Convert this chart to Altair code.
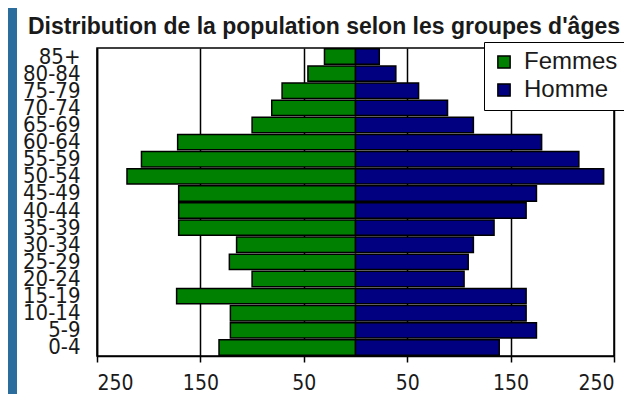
import altair as alt
import pandas as pd

ages = ["85+", "80-84", "75-79", "70-74", "65-69", "60-64", "55-59", "50-54", "45-49",
        "40-44", "35-39", "30-34", "25-29", "20-24", "15-19", "10-14", "5-9", "0-4"]
femmes = [30, 46, 71, 81, 100, 172, 207, 221, 171, 171, 171, 115, 122, 100, 173, 121, 121, 132]
hommes = [23, 39, 61, 89, 114, 180, 216, 240, 175, 165, 134, 114, 109, 105, 165, 165, 175, 139]
series = ["Femmes", "Homme"]
colors = ["#008000", "#000080"]
tick_values = [-250, -150, -50, 50, 150, 250]

rows = []
for a, f, h in zip(ages, femmes, hommes):
    rows.append({"age": a, "sexe": "Femmes", "val": -f})
    rows.append({"age": a, "sexe": "Homme", "val": h})
df = pd.DataFrame(rows)

narrow = "Liberation Sans Narrow, Arial Narrow, DejaVu Sans Condensed, sans-serif"
regular = "Liberation Sans, Arial, sans-serif"

bars = alt.Chart(df).mark_bar(stroke="black", strokeWidth=1.5).encode(
    x=alt.X("val:Q", scale=alt.Scale(domain=[-250, 250], nice=False, zero=False),
            axis=alt.Axis(values=tick_values, labelExpr="abs(datum.value)", title=None,
                          grid=True, gridColor="black", gridWidth=1.5, gridOpacity=1,
                          domainColor="black", domainWidth=1.5, tickColor="black",
                          tickWidth=1.5, tickSize=6, labelPadding=10,
                          labelFont=narrow, labelFontSize=21, labelColor="#1a1a1a")),
    y=alt.Y("age:N", sort=ages, scale=alt.Scale(paddingInner=0.1, paddingOuter=0.05),
            axis=alt.Axis(title=None, ticks=False, domainColor="black", domainWidth=1.5,
                          labelPadding=17, labelFont=narrow, labelFontSize=22,
                          labelColor="#1a1a1a", labelOverlap=False)),
    color=alt.Color("sexe:N", scale=alt.Scale(domain=series, range=colors),
                    legend=alt.Legend(title=None, orient="none", legendX=387, legendY=-6,
                                      fillColor="white", strokeColor="black",
                                      padding=8, symbolType="square", symbolSize=150,
                                      symbolStrokeColor="black", symbolStrokeWidth=1.5,
                                      labelFont=regular, labelFontSize=24,
                                      labelColor="#1a1a1a", rowPadding=4,
                                      labelOffset=8)),
)

strip = alt.Chart(alt.Data(values=[{}])).mark_rect(color="#2b6e9d").encode(
    x=alt.value(-89), x2=alt.value(-80), y=alt.value(-40), y2=alt.value(346)
)

chart = alt.layer(strip, bars).properties(
    width=517, height=308,
    autosize=alt.AutoSizeParams(type="none"),
    padding={"left": 89, "top": 40, "right": 10, "bottom": 38},
    background="white",
    title=alt.TitleParams("Distribution de la population selon les groupes d'âges",
                          font=regular, fontSize=23, fontWeight="bold", color="#1a1a1a",
                          anchor="start", frame="group", dx=-69, offset=0,
                          baseline="alphabetic", dy=49),
).configure_view(stroke="black", strokeWidth=1.5)

chart.save("out.html", embed_options={"renderer": "svg", "actions": False})
